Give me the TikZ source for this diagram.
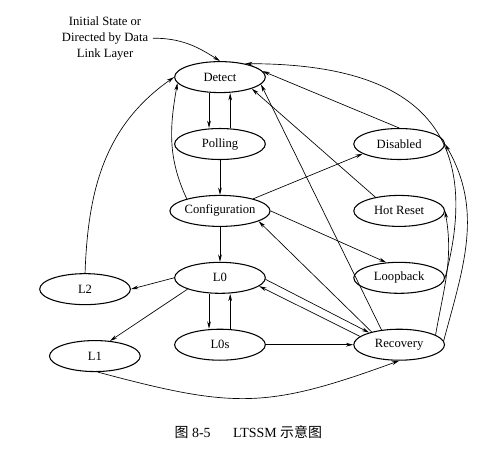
\documentclass[tikz,border=0pt]{standalone}
\usepackage{fontspec}
\setmainfont{Liberation Serif}
\newfontfamily\cjk{Noto Sans CJK SC}
\usetikzlibrary{arrows.meta, shapes.geometric, positioning}

\begin{document}
\begin{tikzpicture}[align=center,node distance=1.77cm,font=\fontsize{9.5}{12}\selectfont,
  >={Stealth[length=5.5pt,width=2.8pt]}]
\tikzstyle{state}=[ellipse,draw=black,line width=0.8pt,minimum width=2.4cm,minimum height=0.82cm,inner sep=0pt]
\tikzstyle{trans}=[->,line width=0.5pt]

\useasboundingbox (-5.82,2.04) rectangle (7.17,-9.92);

% middle column
\node[state] (detect) {Detect};
\node[state] (polling) [below of = detect] {Polling};
\node[state] (config) [below of = polling] {Configuration};
\node[state] (l0) [below of = config] {L0};
\node[state] (l0s) [below of = l0] {L0s};

% right column
\node[state] (disabled) [node distance=4.74cm, right of = polling] {Disabled};
\node[state] (hotreset) [node distance=4.74cm, right of = config] {Hot Reset};
\node[state] (loopback) [node distance=4.74cm, right of = l0] {Loopback};
\node[state] (recovery) [node distance=4.74cm, right of = l0s] {Recovery};

% left side
\node[state] (l2) [node distance=3.57cm, left of = l0, yshift=-0.3cm] {L2};
\node[state] (l1) [node distance=3.31cm, left of = l0s, yshift=-0.3cm] {L1};

\node (init) [node distance=3.04cm, left of = detect, yshift=1.03cm] {Initial State or\\Directed by Data\\Link Layer};
\node (caption) [node distance=9.39cm, below of = detect, xshift=0.75cm, font=\fontsize{10.5}{12}\selectfont]
  {{\cjk 图} 8-5\hspace{1.6em}LTSSM {\cjk 示意图}};

\path
  (init.east) edge [trans, out=0, in=147] (detect.north)
  ([xshift=-0.29cm]detect.south) edge [trans] ([xshift=-0.29cm]polling.north)
  ([xshift=0.27cm]polling.north) edge [trans] ([xshift=0.27cm]detect.south)
  (polling) edge [trans] (config)
  (config) edge [trans] (l0)
  ([xshift=-0.29cm]l0.south) edge [trans] ([xshift=-0.29cm]l0s.north)
  ([xshift=0.27cm]l0s.north) edge [trans] ([xshift=0.27cm]l0.south)
  (config.160) edge [trans, out=115, in=260] (detect.188)
  (l2.north) edge [trans, out=88, in=215] (detect.west)
  (config.20) edge [trans] (disabled.195)
  (config.east) edge [trans] (loopback.130)
  (disabled.north) edge [trans] (detect.8)
  (hotreset.150) edge [trans] (detect.-20)
  (recovery.140) edge [trans] (detect.-10)
  (recovery.155) edge [trans] (config.-15)
  (l0.-2) edge [trans] (recovery.158)
  (recovery.168) edge [trans] (l0.-12)
  (l0s) edge [trans] (recovery)
  (l0.west) edge [trans] (l2.east)
  (l0.south west) edge [trans] (l1.45)
  (l1.-80) edge [trans, out=-15, in=200, looseness=1.2] (recovery.south)
  (loopback.east) edge [trans, out=75, in=0, looseness=1.4] (detect.28)
  (recovery.5) edge [trans, out=75, in=-60] (disabled.east)
  (recovery.15) edge [trans, out=80, in=-80] (hotreset.east);
\end{tikzpicture}
\end{document}
